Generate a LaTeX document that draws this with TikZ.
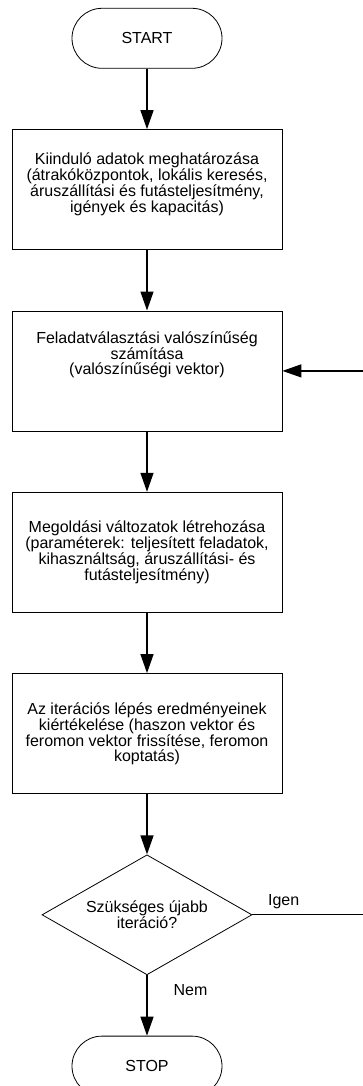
\documentclass[tikz,border=0pt]{standalone}
\usepackage{fontspec}
\setmainfont{Liberation Sans}
\usetikzlibrary{shapes.geometric, arrows.meta, positioning}

\begin{document}
\begin{tikzpicture}[x=1pt, y=-1pt, node distance=60.5pt, font=\fontsize{16}{15}\selectfont]
		\tikzstyle{startstop} = [rectangle, rounded corners=30pt, minimum width=150pt, minimum height=60pt, text centered, draw=black, line width=0.8pt]
		\tikzstyle{process} = [rectangle, minimum width=270pt, minimum height=120pt, align=center, draw=black, line width=0.8pt]
		\tikzstyle{decision} = [diamond, aspect=1.75, minimum width=210pt, minimum height=120pt, inner sep=0pt, align=center, draw=black, line width=0.8pt]
		\tikzstyle{arrow} = [line width=1.3pt, -{Triangle[length=19pt, width=13pt]}]
		\useasboundingbox (0,0) rectangle (363,1086);
		\clip (0,0) rectangle (363,1086);
		\node (start) [startstop] at (147,38.3) {START};
		\node (inputs) [process, below=of start] {Kiinduló adatok meghatározása\\(átrakóközpontok, lokális keresés,\\áruszállítási és futásteljesítmény,\\igények és kapacitás)\\[-1pt]\mbox{}};
		\node (prob) [process, below=of inputs] {Feladatválasztási valószínűség\\számítása\\(valószínűségi vektor)\\[21pt]\mbox{}};
		\node (variants) [process, below=of prob] {Megoldási változatok létrehozása\\(paraméterek: teljesített feladatok,\\kihasználtság, áruszállítási- és\\futásteljesítmény)};
		\node (evaluate) [process, below=of variants] {Az iterációs lépés eredményeinek\\kiértékelése (haszon vektor és\\feromon vektor frissítése, feromon\\koptatás)};
		\node (check) [decision, below=of evaluate] {Szükséges újabb\\iteráció?};
		\node (stop) [startstop, below=of check] {STOP};
		\coordinate (loopx) at (380,0);

		\draw [arrow] (start) -- (inputs);
		\draw [arrow] (inputs) -- (prob);
		\draw [arrow] (prob) -- (variants);
		\draw [arrow] (variants) -- (evaluate);
		\draw [arrow] (evaluate) -- (check);
		\draw [arrow] (check) -- node[pos=0, anchor=base west, xshift=26pt, yshift=-20pt, inner sep=0pt] {Nem} (stop);
		\draw [arrow] (check.east) -- node[pos=0, anchor=base west, xshift=15pt, yshift=9pt, inner sep=0pt] {Igen} (check.east -| loopx) |- (prob.east);
	\end{tikzpicture}
\end{document}
